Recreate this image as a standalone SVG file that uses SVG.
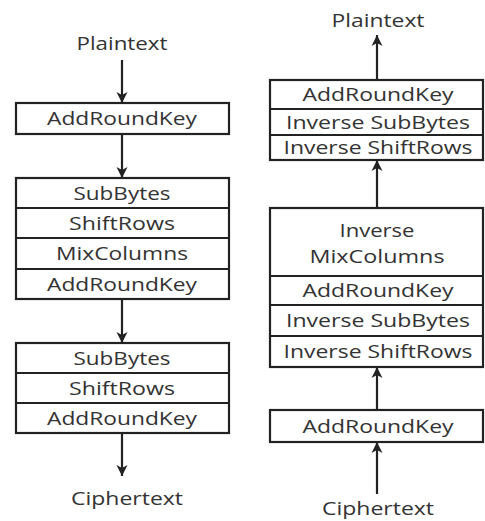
<svg xmlns="http://www.w3.org/2000/svg" width="485" height="521" viewBox="0 0 485 521">
<style>
.box{fill:#fff;stroke:#222;stroke-width:2.2}
.div{stroke:#222;stroke-width:2}
.t{font-family:"Open Sans","Liberation Sans",sans-serif;font-size:18px;fill:#333;text-anchor:middle}
.c{stroke:#222;stroke-width:2.2;fill:none;marker-end:url(#ah)}
</style>
<defs>
<marker id="ah" markerUnits="userSpaceOnUse" markerWidth="12" markerHeight="12" viewBox="0 0 12 12" refX="11" refY="6" orient="auto">
<path d="M0,0.5 L11,6 L0,11.5 L3,6 z" fill="#222"/>
</marker>
</defs>
<rect width="485" height="521" fill="#fff"/>
<g id="connectors">
<line class="c" x1="122" y1="60" x2="122" y2="103"/>
<line class="c" x1="122" y1="134" x2="122" y2="178"/>
<line class="c" x1="122" y1="299" x2="122" y2="343"/>
<line class="c" x1="122" y1="433" x2="122" y2="476"/>
<line class="c" x1="377" y1="80" x2="377" y2="35"/>
<line class="c" x1="377" y1="208" x2="377" y2="160"/>
<line class="c" x1="377" y1="410" x2="377" y2="367"/>
<line class="c" x1="377" y1="494" x2="377" y2="442"/>
</g>
<g id="enc-plaintext"><text class="t" x="122" y="50" textLength="91" lengthAdjust="spacingAndGlyphs">Plaintext</text></g>
<g id="enc-initial">
<rect class="box" x="16" y="103" width="213" height="31"/>
<text class="t" x="122" y="125" textLength="150" lengthAdjust="spacingAndGlyphs">AddRoundKey</text>
</g>
<g id="enc-round">
<rect class="box" x="16" y="178" width="213" height="121"/>
<line class="div" x1="16" y1="208" x2="229" y2="208"/>
<line class="div" x1="16" y1="238" x2="229" y2="238"/>
<line class="div" x1="16" y1="269" x2="229" y2="269"/>
<text class="t" x="122" y="199.5" textLength="97" lengthAdjust="spacingAndGlyphs">SubBytes</text>
<text class="t" x="122" y="229.5" textLength="106" lengthAdjust="spacingAndGlyphs">ShiftRows</text>
<text class="t" x="122" y="260" textLength="132" lengthAdjust="spacingAndGlyphs">MixColumns</text>
<text class="t" x="122" y="290.5" textLength="150" lengthAdjust="spacingAndGlyphs">AddRoundKey</text>
</g>
<g id="enc-final">
<rect class="box" x="16" y="343" width="213" height="90"/>
<line class="div" x1="16" y1="373" x2="229" y2="373"/>
<line class="div" x1="16" y1="403" x2="229" y2="403"/>
<text class="t" x="122" y="364.5" textLength="97" lengthAdjust="spacingAndGlyphs">SubBytes</text>
<text class="t" x="122" y="394.5" textLength="106" lengthAdjust="spacingAndGlyphs">ShiftRows</text>
<text class="t" x="122" y="424.5" textLength="150" lengthAdjust="spacingAndGlyphs">AddRoundKey</text>
</g>
<g id="enc-ciphertext"><text class="t" x="127" y="505" textLength="112" lengthAdjust="spacingAndGlyphs">Ciphertext</text></g>
<g id="dec-plaintext"><text class="t" x="378" y="27" textLength="93" lengthAdjust="spacingAndGlyphs">Plaintext</text></g>
<g id="dec-final">
<rect class="box" x="270" y="80" width="213" height="80"/>
<line class="div" x1="270" y1="109" x2="483" y2="109"/>
<line class="div" x1="270" y1="135" x2="483" y2="135"/>
<text class="t" x="378" y="101" textLength="151" lengthAdjust="spacingAndGlyphs">AddRoundKey</text>
<text class="t" x="378" y="128.5" textLength="184" lengthAdjust="spacingAndGlyphs">Inverse SubBytes</text>
<text class="t" x="378" y="154" textLength="189" lengthAdjust="spacingAndGlyphs">Inverse ShiftRows</text>
</g>
<g id="dec-round">
<rect class="box" x="270" y="208" width="213" height="159"/>
<line class="div" x1="270" y1="276" x2="483" y2="276"/>
<line class="div" x1="270" y1="305" x2="483" y2="305"/>
<line class="div" x1="270" y1="336" x2="483" y2="336"/>
<text class="t" x="377" y="237" textLength="75" lengthAdjust="spacingAndGlyphs">Inverse</text>
<text class="t" x="377" y="263" textLength="135" lengthAdjust="spacingAndGlyphs">MixColumns</text>
<text class="t" x="378" y="297" textLength="151" lengthAdjust="spacingAndGlyphs">AddRoundKey</text>
<text class="t" x="378" y="327" textLength="184" lengthAdjust="spacingAndGlyphs">Inverse SubBytes</text>
<text class="t" x="378" y="358" textLength="189" lengthAdjust="spacingAndGlyphs">Inverse ShiftRows</text>
</g>
<g id="dec-initial">
<rect class="box" x="270" y="410" width="213" height="32"/>
<text class="t" x="378" y="432.5" textLength="151" lengthAdjust="spacingAndGlyphs">AddRoundKey</text>
</g>
<g id="dec-ciphertext"><text class="t" x="378" y="515" textLength="112" lengthAdjust="spacingAndGlyphs">Ciphertext</text></g>
</svg>
